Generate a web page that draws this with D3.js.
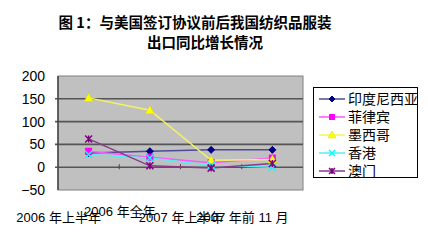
<!DOCTYPE html>
<html><head><meta charset="utf-8">
<script src="https://cdn.jsdelivr.net/npm/d3@7"></script>
<style>body{margin:0;background:#fff}svg{display:block}</style>
</head><body>
<script>
const categories = ["2006 年上半年", "2006 年全年", "2007 年上半年", "2007 年前 11 月"];
const seriesNames = ["印度尼西亚", "菲律宾", "墨西哥", "香港", "澳门"];
const indonesia = [31, 35, 38, 38];
const philippines = [35, 22, 10, 20];
const mexico = [152, 125, 15, 17];
const hongkong = [28, 20, 4, 0];
const macau = [62, 3, -2, 8];
const yTicks = [-50, 0, 50, 100, 150, 200];
const titleLines = ["图 1：与美国签订协议前后我国纺织品服装", "出口同比增长情况"];

const seriesValues = [indonesia, philippines, mexico, hongkong, macau];
const colors = ["#000080", "#ff00ff", "#ffff00", "#00ffff", "#800080"];
const lineColors = ["#4b4b9a", "#ff55ff", "#f4f460", "#55eeee", "#8a3a8a"];
const markers = ["diamond", "square", "triangle", "x", "star"];

const W = 428, H = 249;
const svg = d3.select("body").append("svg").attr("width", W).attr("height", H);
const L = 58, R = 303, T = 76, B = 190;

const x = d3.scaleBand().domain(categories).range([L, R]);
const y = d3.scaleLinear().domain([-50, 200]).range([B, T]);

// title
svg.selectAll("text.title").data(titleLines).join("text")
  .attr("class", "title")
  .attr("x", (d, i) => i === 0 ? 195 : 205)
  .attr("y", (d, i) => i === 0 ? 28 : 48)
  .attr("text-anchor", "middle")
  .attr("font-family", "'Noto Sans CJK SC'")
  .attr("font-weight", "bold")
  .attr("font-size", 14.5)
  .text(d => d);

// plot area
svg.append("rect").attr("x", L).attr("y", T).attr("width", R - L).attr("height", B - T)
  .attr("fill", "#c0c0c0").attr("stroke", "#808080").attr("stroke-width", 1);

// gridlines
svg.selectAll("line.grid").data(yTicks.filter(v => v > -50 && v < 200)).join("line")
  .attr("x1", L - 3).attr("x2", R).attr("y1", d => y(d)).attr("y2", d => y(d))
  .attr("stroke", "#555").attr("stroke-width", 1.6);

// left axis line
svg.append("line").attr("x1", L).attr("x2", L).attr("y1", T).attr("y2", B)
  .attr("stroke", "#444").attr("stroke-width", 1.5);

// category tick marks on zero line
svg.selectAll("line.ctick").data(categories.slice(1)).join("line")
  .attr("x1", d => x(d)).attr("x2", d => x(d))
  .attr("y1", y(0) - 3).attr("y2", y(0) + 2)
  .attr("stroke", "#444").attr("stroke-width", 1);

// y axis labels
const yAxis = d3.axisLeft(y).tickValues(yTicks).tickSize(0).tickPadding(13);
const ga = svg.append("g").attr("transform", `translate(${L},0)`).call(yAxis);
ga.select(".domain").remove();
ga.selectAll("text").attr("font-family", "'Liberation Sans', Arial").attr("font-size", 14).attr("fill", "#000");

// x labels (staggered as in reference)
svg.selectAll("text.xl").data(categories).join("text")
  .attr("class", "xl")
  .attr("x", d => x(d) + x.bandwidth() / 2 - 30)
  .attr("y", (d, i) => i === 1 ? 216 : 222)
  .attr("text-anchor", "middle")
  .attr("font-family", "'Liberation Sans', 'Noto Sans CJK SC'")
  .attr("font-size", 13)
  .text(d => d);

function drawMarker(g, type, color, s) {
  if (type === "diamond") {
    g.append("path").attr("d", `M0,${-s}L${s},0L0,${s}L${-s},0Z`).attr("fill", color).attr("stroke", color);
  } else if (type === "square") {
    g.append("rect").attr("x", -s).attr("y", -s).attr("width", 2 * s).attr("height", 2 * s).attr("fill", color);
  } else if (type === "triangle") {
    g.append("path").attr("d", `M0,${-s - 1}L${s + 1},${s}L${-s - 1},${s}Z`).attr("fill", color).attr("stroke", "#d8d800").attr("stroke-width", 0.5);
  } else if (type === "x") {
    g.append("path").attr("d", `M${-s},${-s}L${s},${s}M${-s},${s}L${s},${-s}`).attr("stroke", color).attr("stroke-width", 1.5);
  } else {
    g.append("path").attr("d", `M${-s},${-s}L${s},${s}M${-s},${s}L${s},${-s}M0,${-s}L0,${s}`).attr("stroke", color).attr("stroke-width", 1.5);
  }
}

const line = d3.line().x((d, i) => x(categories[i]) + x.bandwidth() / 2).y(d => y(d));
seriesValues.forEach((vals, k) => {
  svg.append("path").attr("d", line(vals)).attr("fill", "none")
    .attr("stroke", lineColors[k]).attr("stroke-width", 1.5);
});
seriesValues.forEach((vals, k) => {
  vals.forEach((v, i) => {
    const g = svg.append("g").attr("transform", `translate(${x(categories[i]) + x.bandwidth() / 2},${y(v)})`);
    drawMarker(g, markers[k], colors[k], 3.5);
  });
});

// legend
svg.append("rect").attr("x", 313.5).attr("y", 87.5).attr("width", 104).attr("height", 90)
  .attr("fill", "#fff").attr("stroke", "#000").attr("stroke-width", 1);
const legendY = d3.scalePoint().domain(seriesNames).range([99, 171]);
seriesNames.forEach((n, k) => {
  const yy = legendY(n);
  svg.append("line").attr("x1", 319).attr("x2", 345).attr("y1", yy).attr("y2", yy)
    .attr("stroke", lineColors[k]).attr("stroke-width", 1.5);
  const g = svg.append("g").attr("transform", `translate(332,${yy})`);
  drawMarker(g, markers[k], colors[k], 3);
  svg.append("text").attr("x", 348).attr("y", yy + 5).attr("font-family", "'Noto Sans CJK SC'")
    .attr("font-size", 14).text(n);
});
</script>
</body></html>
